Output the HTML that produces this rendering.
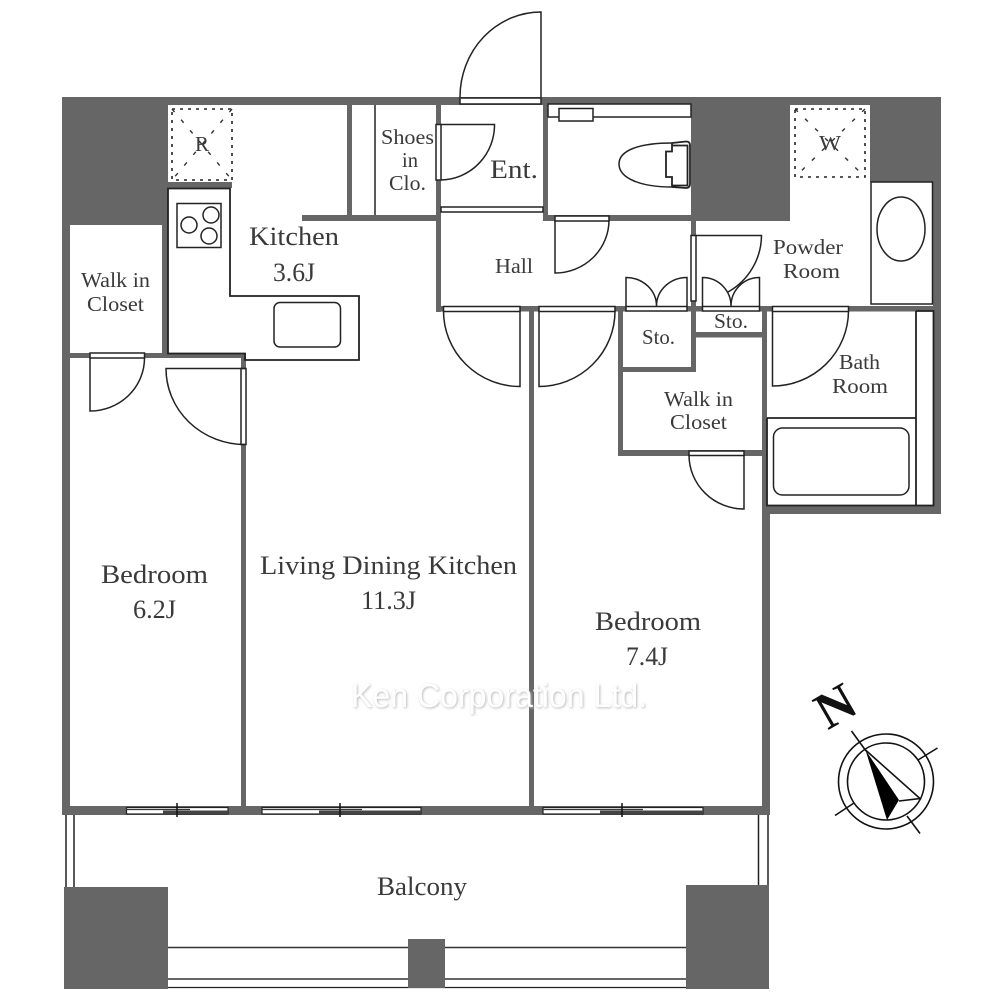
<!DOCTYPE html>
<html><head><meta charset="utf-8"><style>
html,body{margin:0;padding:0;background:#fff}
svg{display:block}
text{font-family:"Liberation Serif",serif;fill:#3a3a3a}
.w{fill:#666}
.l{fill:none;stroke:#222;stroke-width:1.5}
.f{fill:#fff;stroke:#222;stroke-width:1.5}
.d{fill:none;stroke:#222;stroke-width:1.6;stroke-dasharray:3 5}
.g{fill:none;stroke:#333;stroke-width:1.4;stroke-dasharray:4 10}
</style></head><body>
<svg width="1000" height="1000" viewBox="0 0 1000 1000" xmlns="http://www.w3.org/2000/svg">
<defs><filter id="b" x="-5%" y="-30%" width="110%" height="160%"><feGaussianBlur stdDeviation="1.2"/></filter></defs>
<rect width="1000" height="1000" fill="#fff"/>

<!-- top band and large blocks -->
<rect class="w" x="62" y="97" width="879" height="8"/>
<rect class="w" x="62" y="97" width="106" height="128"/>
<rect class="w" x="691" y="97" width="99" height="124"/>
<rect class="w" x="870" y="97" width="71" height="85"/>
<rect class="w" x="162" y="188" width="6" height="169"/>
<rect class="w" x="168" y="182" width="64" height="6"/>
<!-- outer walls -->
<rect class="w" x="62" y="97" width="8" height="718"/>
<rect class="w" x="933" y="97" width="8" height="417"/>
<rect class="w" x="62" y="806" width="708" height="9"/>
<rect class="w" x="762" y="506" width="8" height="309"/>
<rect class="w" x="762" y="506" width="179" height="8"/>
<!-- inner walls -->
<rect class="w" x="70" y="353" width="176" height="5"/>
<rect class="w" x="241" y="353" width="5" height="455"/>
<rect class="w" x="529" y="306" width="5" height="502"/>
<rect class="w" x="347" y="105" width="5" height="112"/>
<rect class="w" x="302" y="215" width="139" height="6"/>
<rect class="w" x="436" y="105" width="5" height="207"/>
<rect class="w" x="436" y="306" width="505" height="5.500"/>
<rect class="w" x="543" y="97" width="5" height="124"/>
<rect class="w" x="543" y="215" width="150" height="6"/>
<rect class="w" x="691" y="220" width="5" height="152"/>
<rect class="w" x="618" y="306" width="5" height="150"/>
<rect class="w" x="618" y="367" width="78" height="5"/>
<rect class="w" x="696" y="332" width="71" height="5.500"/>
<rect class="w" x="762" y="306" width="5" height="205"/>
<rect class="w" x="618" y="450" width="149" height="6"/>

<line class="l" x1="375" y1="105" x2="375" y2="215"/>

<!-- R / W boxes -->
<rect class="d" x="172" y="109" width="60" height="71"/>
<path class="g" d="M172 109 L232 180 M232 109 L172 180"/>
<rect class="d" x="795" y="109" width="70" height="68"/>
<path class="g" d="M795 109 L865 177 M865 109 L795 177"/>

<!-- kitchen counter -->
<path class="l" d="M168 188.500 H230 V296 H359 V360 H245 V353.500 H168 Z" style="stroke-width:1.800"/>
<rect class="l" x="177" y="203.500" width="44" height="44"/>
<circle class="l" cx="211" cy="215" r="8"/>
<circle class="l" cx="189" cy="225" r="8"/>
<circle class="l" cx="209" cy="236" r="8"/>
<rect class="l" x="274" y="302.500" width="66.500" height="44.500" rx="6"/>

<!-- entry door -->
<rect class="f" x="460" y="98" width="81" height="6"/>
<path class="l" d="M460 97 A81 85 0 0 1 541 12 V97"/>
<!-- closet door at entrance -->
<rect class="f" x="436" y="124.500" width="5" height="55.500"/>
<path class="l" d="M441 124.500 H494.500 A54 55 0 0 1 441 180"/>
<rect class="f" x="441" y="207" width="102" height="5"/>
<!-- toilet -->
<rect class="f" x="548" y="104" width="143" height="13"/>
<rect class="f" x="559" y="108.500" width="34" height="12.500"/>
<path class="l" d="M672 143 C640 143 619 150 619 164 C619 178 640 187 672 187"/>
<path class="l" style="stroke-width:1.800" d="M672 143 L686 141.500 Q690 141.500 690 145 V184 Q690 188 686 188 L672 187 M672 143 V151.500 H666 V177 H672 V187 M672 145.500 H687.500 V185.500 H672"/>
<!-- toilet door -->
<rect class="f" x="555" y="216" width="54" height="5"/>
<path class="l" d="M609 220 A54 53 0 0 1 555 273 V220"/>
<!-- hall doors -->
<rect class="f" x="443.500" y="306.500" width="76.500" height="5"/>
<path class="l" d="M443.500 311 A76.500 75.500 0 0 0 520 386.500 V311"/>
<rect class="f" x="539" y="306.500" width="76" height="5"/>
<path class="l" d="M615 311 A76 75.500 0 0 1 539 386.500 V311"/>
<!-- double doors -->
<rect class="f" x="626" y="306.500" width="61" height="4.500"/>
<path class="l" d="M626 306 V277.500 A30.500 28.500 0 0 1 656.500 306 A30.500 28.500 0 0 1 687 277.500 V306"/>
<rect class="f" x="702.500" y="306.500" width="57" height="4.500"/>
<path class="l" d="M702.500 306 V277.500 A28.500 28.500 0 0 1 731 306 A28.500 28.500 0 0 1 759.500 277.500 V306"/>
<!-- powder door -->
<rect class="f" x="691" y="235.500" width="5" height="65.500"/>
<path class="l" d="M696 235.500 H761.500 A65.500 65.500 0 0 1 728 292"/>
<!-- bath door -->
<rect class="f" x="772.500" y="306.500" width="76" height="5"/>
<path class="l" d="M848.500 311 A76 75.500 0 0 1 772.500 386 V311"/>
<!-- walk in door -->
<rect class="f" x="689" y="451" width="55" height="4.500"/>
<path class="l" d="M689 455 A55 54 0 0 0 744 509 V455"/>
<!-- left bedroom doors -->
<rect class="f" x="90" y="353" width="54.500" height="5"/>
<path class="l" d="M144.500 358 A54.500 53 0 0 1 90 411 V358"/>
<rect class="f" x="241" y="368.500" width="5" height="76"/>
<path class="l" d="M245 368.500 H166 A79 76 0 0 0 245 444.500"/>
<!-- wash counter -->
<rect class="f" x="871" y="182" width="61.500" height="122"/>
<ellipse class="l" cx="901" cy="229" rx="24" ry="32"/>
<!-- bath -->
<path class="l" style="stroke-width:1.800" d="M767 418 H916 M916 311 H933.500 V505.500 H767 V418 M916 311 V505.500"/>
<rect class="l" x="773.500" y="428" width="135.500" height="67" rx="9"/>

<!-- windows -->
<g>
<rect x="126.500" y="807.500" width="101.500" height="6.500" fill="#fff" stroke="#222" stroke-width="1.200"/>
<rect x="163" y="810.500" width="65" height="3.500" fill="#444"/>
<line x1="126" y1="809.500" x2="190" y2="809.500" stroke="#333" stroke-width="1.200"/>
<line x1="177" y1="803" x2="177" y2="817" stroke="#111" stroke-width="1.500"/>
<rect x="262" y="807.500" width="159" height="6.500" fill="#fff" stroke="#222" stroke-width="1.200"/>
<rect x="319" y="810.500" width="102" height="3.500" fill="#444"/>
<line x1="262" y1="809.500" x2="362" y2="809.500" stroke="#333" stroke-width="1.200"/>
<line x1="340" y1="803" x2="340" y2="817" stroke="#111" stroke-width="1.500"/>
<rect x="543" y="807.500" width="160" height="6.500" fill="#fff" stroke="#222" stroke-width="1.200"/>
<rect x="600" y="810.500" width="103" height="3.500" fill="#444"/>
<line x1="543" y1="809.500" x2="643" y2="809.500" stroke="#333" stroke-width="1.200"/>
<line x1="622" y1="803" x2="622" y2="817" stroke="#111" stroke-width="1.500"/>
</g>

<!-- balcony -->
<path class="l" d="M66 815 V887 M74 815 V887 M758.500 815 V886 M768 815 V886"/>
<line x1="168" y1="947.500" x2="686" y2="947.500" stroke="#333" stroke-width="1.500"/>
<line x1="168" y1="979" x2="686" y2="979" stroke="#666" stroke-width="2"/>
<line x1="168" y1="987.500" x2="686" y2="987.500" stroke="#222" stroke-width="1.300"/>
<rect class="w" x="64" y="887" width="104" height="102"/>
<rect class="w" x="686" y="885" width="83" height="104"/>
<rect class="w" x="408" y="939" width="37" height="49"/>

<!-- labels -->
<g font-size="26">
<text x="249" y="245" textLength="90" lengthAdjust="spacingAndGlyphs">Kitchen</text>
<text x="273" y="281" textLength="42" lengthAdjust="spacingAndGlyphs">3.6J</text>
<text x="490" y="178" textLength="48" lengthAdjust="spacingAndGlyphs">Ent.</text>
<text x="101" y="583" textLength="107" lengthAdjust="spacingAndGlyphs">Bedroom</text>
<text x="133" y="618" textLength="43" lengthAdjust="spacingAndGlyphs">6.2J</text>
<text x="260" y="574" textLength="257" lengthAdjust="spacingAndGlyphs">Living Dining Kitchen</text>
<text x="361" y="609" textLength="55" lengthAdjust="spacingAndGlyphs">11.3J</text>
<text x="595" y="630" textLength="106" lengthAdjust="spacingAndGlyphs">Bedroom</text>
<text x="626" y="665" textLength="42" lengthAdjust="spacingAndGlyphs">7.4J</text>
<text x="377" y="895" textLength="90" lengthAdjust="spacingAndGlyphs">Balcony</text>
</g>
<g font-size="21">
<text x="81" y="287" textLength="69" lengthAdjust="spacingAndGlyphs">Walk in</text>
<text x="87" y="311" textLength="57" lengthAdjust="spacingAndGlyphs">Closet</text>
<text x="381" y="144" textLength="53" lengthAdjust="spacingAndGlyphs">Shoes</text>
<text x="402" y="167" textLength="16" lengthAdjust="spacingAndGlyphs">in</text>
<text x="389" y="190" textLength="37" lengthAdjust="spacingAndGlyphs">Clo.</text>
<text x="495" y="273" textLength="38" lengthAdjust="spacingAndGlyphs">Hall</text>
<text x="773" y="254" textLength="70" lengthAdjust="spacingAndGlyphs">Powder</text>
<text x="783" y="278" textLength="57" lengthAdjust="spacingAndGlyphs">Room</text>
<text x="642" y="344" textLength="33" lengthAdjust="spacingAndGlyphs">Sto.</text>
<text x="714" y="328" textLength="34" lengthAdjust="spacingAndGlyphs">Sto.</text>
<text x="839" y="369" textLength="41" lengthAdjust="spacingAndGlyphs">Bath</text>
<text x="832" y="393" textLength="56" lengthAdjust="spacingAndGlyphs">Room</text>
<text x="664" y="406" textLength="69" lengthAdjust="spacingAndGlyphs">Walk in</text>
<text x="670" y="429" textLength="57" lengthAdjust="spacingAndGlyphs">Closet</text>
<text x="195" y="151" textLength="14" lengthAdjust="spacingAndGlyphs">R</text>
<text x="819" y="150" textLength="22" lengthAdjust="spacingAndGlyphs">W</text>
</g>

<!-- watermark -->
<text x="352" y="708" font-size="33" textLength="296" lengthAdjust="spacingAndGlyphs" style="font-family:'Liberation Sans',sans-serif;fill:#bbb" filter="url(#b)">Ken Corporation Ltd.</text>
<text x="351" y="707" font-size="33" textLength="296" lengthAdjust="spacingAndGlyphs" style="font-family:'Liberation Sans',sans-serif;fill:#fff">Ken Corporation Ltd.</text>

<!-- compass -->
<g fill="none" stroke="#111" stroke-width="1.600">
<circle cx="886" cy="781.500" r="47.500"/>
<circle cx="886" cy="781.500" r="38.500"/>
<path d="M851.500 731 L866 751 M907 816 L920 833.500 M835 815.500 L854 803 M918 760 L937.500 748"/>
<path d="M865.500 750 L920 798.500 L899 801"/>
</g>
<path d="M865.500 750 L887 820 L899 800 Z" fill="#000"/>
<text x="0" y="0" font-size="52" font-weight="bold" text-anchor="middle" transform="translate(844 721) rotate(-30)" style="fill:#111">N</text>
</svg>
</body></html>
